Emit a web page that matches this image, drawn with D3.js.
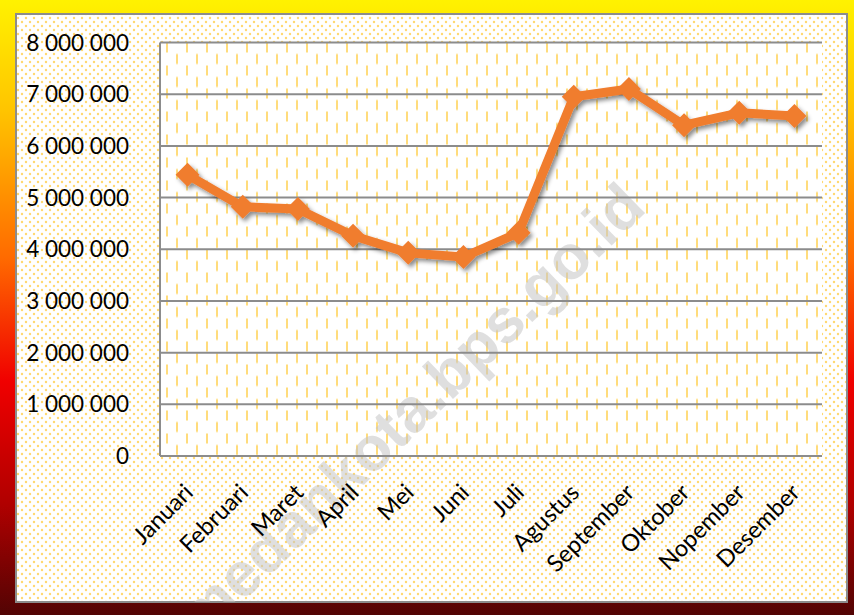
<!DOCTYPE html>
<html>
<head>
<meta charset="utf-8">
<script src="https://cdn.jsdelivr.net/npm/d3@7"></script>
<style>
  body { margin: 0; background: #fff; }
  svg { display: block; }
</style>
</head>
<body>
<div id="chart"></div>
<script>
// monthly values
var months = ["Januari", "Februari", "Maret", "April", "Mei", "Juni", "Juli",
              "Agustus", "September", "Oktober", "Nopember", "Desember"]
var values = [5440000, 4820000, 4780000, 4260000, 3930000, 3850000, 4320000,
              6950000, 7100000, 6400000, 6640000, 6580000]
var yTicks = [0, 1000000, 2000000, 3000000, 4000000, 5000000, 6000000, 7000000, 8000000]

var width = 854, height = 615
var plot = { left: 160, right: 822, top: 42.5, bottom: 456 }
var lineColor = "#F07D2E"
var fontFamily = "Lato, 'Open Sans', sans-serif"

var svg = d3.select("#chart").append("svg")
	.attr("width", width)
	.attr("height", height)

var defs = svg.append("defs")

// outer frame gradient, yellow at the top to dark red at the bottom
var grad = defs.append("linearGradient")
	.attr("id", "frameGrad")
	.attr("x1", 0).attr("y1", 0).attr("x2", 0).attr("y2", 1)
grad.selectAll("stop")
	.data([["0", "#FFF200"], ["0.18", "#FFC400"], ["0.42", "#FF6A00"], ["0.62", "#F00000"], ["0.82", "#B00000"], ["1", "#520404"]])
	.enter().append("stop")
	.attr("offset", function(d) { return d[0] })
	.attr("stop-color", function(d) { return d[1] })

// dotted pattern for the panel
var dots = defs.append("pattern")
	.attr("id", "dots")
	.attr("patternUnits", "userSpaceOnUse")
	.attr("width", 8).attr("height", 8)
dots.append("rect").attr("width", 8).attr("height", 8).attr("fill", "#fff")
dots.append("circle").attr("cx", 2).attr("cy", 2).attr("r", 1.2).attr("fill", "#FFD870")
dots.append("circle").attr("cx", 6).attr("cy", 6).attr("r", 1.2).attr("fill", "#FFD870")

// dashed vertical pattern for the plot area
var dashes = defs.append("pattern")
	.attr("id", "dashes")
	.attr("patternUnits", "userSpaceOnUse")
	.attr("x", plot.left).attr("y", plot.top)
	.attr("width", 20).attr("height", 23)
dashes.append("rect").attr("width", 20).attr("height", 23).attr("fill", "#fff")
dashes.append("rect").attr("x", 6).attr("y", 0).attr("width", 2).attr("height", 10).attr("fill", "#FFDC7C")
dashes.append("rect").attr("x", 16).attr("y", 11.5).attr("width", 2).attr("height", 10).attr("fill", "#FFDC7C")

var shadow = defs.append("filter")
	.attr("id", "shadow")
	.attr("x", "-20%").attr("y", "-20%").attr("width", "140%").attr("height", "140%")
shadow.append("feDropShadow")
	.attr("dx", 2.5).attr("dy", 3)
	.attr("stdDeviation", 2.2)
	.attr("flood-color", "#000")
	.attr("flood-opacity", 0.45)

defs.append("clipPath").attr("id", "panelClip")
	.append("rect").attr("x", 16).attr("y", 14).attr("width", 831).attr("height", 588)

// frame and panel
svg.append("rect")
	.attr("width", width).attr("height", height)
	.attr("fill", "url(#frameGrad)")

svg.append("rect")
	.attr("x", 16).attr("y", 14)
	.attr("width", 831).attr("height", 588)
	.attr("fill", "url(#dots)")
	.attr("stroke", "#8C8C8C")
	.attr("stroke-width", 2)

// scales
var x = d3.scaleBand()
	.domain(months)
	.range([plot.left, plot.right])

var y = d3.scaleLinear()
	.domain([0, 8000000])
	.range([plot.bottom, plot.top])

svg.append("rect")
	.attr("x", plot.left).attr("y", plot.top)
	.attr("width", plot.right - plot.left)
	.attr("height", plot.bottom - plot.top)
	.attr("fill", "url(#dashes)")

// watermark, under the series
svg.append("g")
	.attr("clip-path", "url(#panelClip)")
	.append("text")
	.attr("transform", "translate(410,410) rotate(-44)")
	.attr("text-anchor", "middle")
	.attr("dy", "0.35em")
	.style("font-family", "'Liberation Sans', Arial, sans-serif")
	.style("font-weight", "bold")
	.style("font-size", "62px")
	.style("fill", "#C4C4C4")
	.style("fill-opacity", 0.55)
	.text("medankota.bps.go.id")

// gridlines
svg.append("g")
	.selectAll("line")
	.data(yTicks)
	.enter().append("line")
	.attr("x1", plot.left).attr("x2", plot.right)
	.attr("y1", function(d) { return y(d) })
	.attr("y2", function(d) { return y(d) })
	.attr("stroke", "#8C8C8C")
	.attr("stroke-width", 2)

svg.append("line")
	.attr("x1", plot.left).attr("x2", plot.left)
	.attr("y1", plot.top).attr("y2", plot.bottom)
	.attr("stroke", "#8C8C8C")
	.attr("stroke-width", 2)

// y labels
var fmt = function(d) { return d3.format(",")(d).replace(/,/g, " ") }
svg.append("g")
	.selectAll("text")
	.data(yTicks)
	.enter().append("text")
	.attr("x", 129)
	.attr("y", function(d) { return y(d) + 8 })
	.attr("text-anchor", "end")
	.style("font-family", fontFamily)
	.style("font-size", "22.5px")
	.style("fill", "#000")
	.text(fmt)

// x labels
svg.append("g")
	.selectAll("text")
	.data(months)
	.enter().append("text")
	.attr("transform", function(d) {
		return "translate(" + (x(d) + x.bandwidth() / 2 + 7) + "," + 494 + ") rotate(-45)"
	})
	.attr("text-anchor", "end")
	.style("font-family", fontFamily)
	.style("font-size", "23.5px")
	.style("fill", "#000")
	.text(function(d) { return d })

// the series
var line = d3.line()
	.x(function(d, i) { return x(months[i]) + x.bandwidth() / 2 })
	.y(function(d) { return y(d) })

var series = svg.append("g").attr("filter", "url(#shadow)")

series.append("path")
	.datum(values)
	.attr("d", line)
	.attr("fill", "none")
	.attr("stroke", lineColor)
	.attr("stroke-width", 9)
	.attr("stroke-linejoin", "round")

var r = 12
series.selectAll("path.marker")
	.data(values)
	.enter().append("path")
	.attr("class", "marker")
	.attr("d", function(d, i) {
		var cx = x(months[i]) + x.bandwidth() / 2, cy = y(d)
		return "M" + cx + "," + (cy - r) + "L" + (cx + r) + "," + cy + "L" + cx + "," + (cy + r) + "L" + (cx - r) + "," + cy + "Z"
	})
	.attr("fill", lineColor)
</script>
</body>
</html>
